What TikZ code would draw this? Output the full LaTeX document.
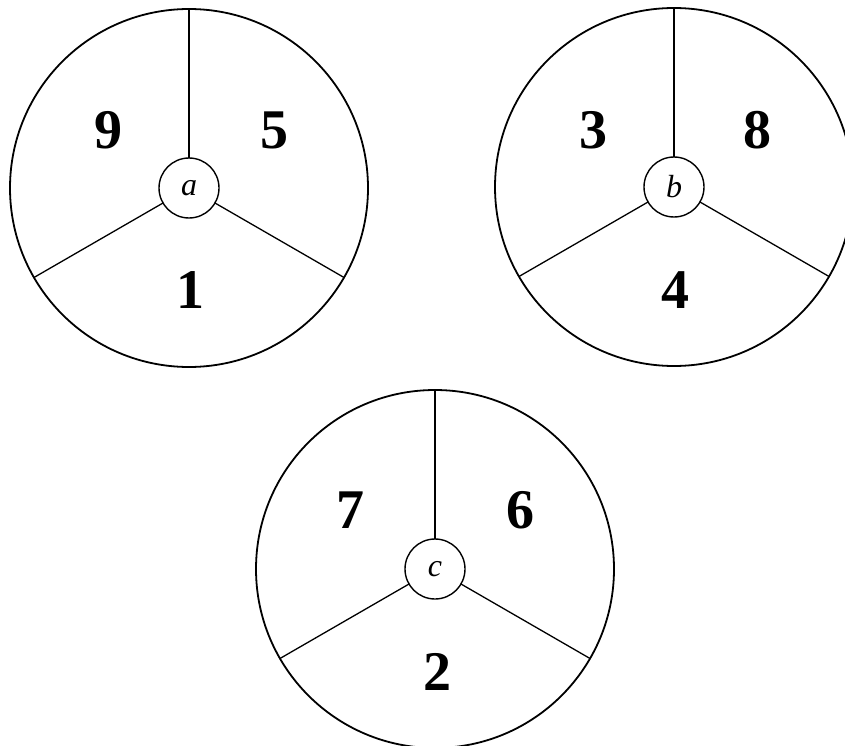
\documentclass[tikz,border=0pt]{standalone}
\usepackage{fontspec}
\setmainfont{Liberation Serif}
\begin{document}
\begin{tikzpicture}[x=1pt,y=-1pt,
  outer/.style={circle,draw,line width=1.8pt,minimum size=358pt,inner sep=0pt,outer sep=0pt},
  hub/.style={circle,draw,line width=1.4pt,minimum size=60pt,inner sep=0pt,outer sep=0pt,font=\fontsize{32}{32}\selectfont\itshape},
  spoke/.style={line width=1.3pt},
  num/.style={font=\fontsize{56}{56}\selectfont\bfseries,inner sep=0pt}]
\useasboundingbox (0,0) rectangle (845,746);
% circle a
\node[outer] (A) at (189,188) {};
\node[hub] (a) at (189,188) {a};
\draw[spoke] (a.90) -- (A.90);
\draw[spoke] (a.210) -- (A.210);
\draw[spoke] (a.330) -- (A.330);
\node[num] (a9) at (108,130) {9};
\node[num] (a5) at (274,130) {5};
\node[num] (a1) at (190,290) {1};
% circle b
\node[outer] (B) at (674,187) {};
\node[hub] (b) at (674,187) {b};
\draw[spoke] (b.90) -- (B.90);
\draw[spoke] (b.210) -- (B.210);
\draw[spoke] (b.330) -- (B.330);
\node[num] (b3) at (593,130) {3};
\node[num] (b8) at (757,130) {8};
\node[num] (b4) at (675,290) {4};
% circle c
\node[outer] (C) at (435,569) {};
\node[hub] (c) at (435,569) {c};
\draw[spoke] (c.90) -- (C.90);
\draw[spoke] (c.210) -- (C.210);
\draw[spoke] (c.330) -- (C.330);
\node[num] (c7) at (350,510) {7};
\node[num] (c6) at (520,510) {6};
\node[num] (c2) at (437,672) {2};
\end{tikzpicture}
\end{document}
